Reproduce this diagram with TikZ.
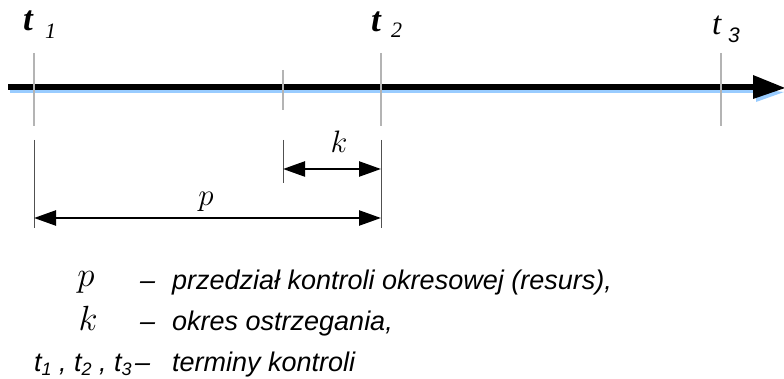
\RequirePackage{fix-cm}
\documentclass[tikz,border=0pt]{standalone}
\usepackage{fontspec}
\setmainfont{Liberation Serif}
\setsansfont{Liberation Sans}
\usetikzlibrary{arrows.meta}
\definecolor{tickgray}{HTML}{B4B4B4}
\definecolor{dimgray}{HTML}{505050}
\definecolor{shadowblue}{HTML}{99CCFF}
\tikzset{
  ticksty/.style={draw=tickgray, line width=2.2pt},
  extsty/.style={draw=dimgray, line width=1pt},
  dimarrow/.style={line width=2.4pt, {Triangle[length=22pt,width=15pt]}-{Triangle[length=22pt,width=15pt]}},
  tlab/.style={inner sep=0pt, anchor=base west, font=\fontsize{35}{36}\selectfont\bfseries\itshape},
  tsub/.style={inner sep=0pt, anchor=base west, font=\fontsize{22}{24}\selectfont\itshape},
  mathlab/.style={inner sep=0pt, anchor=base, font=\fontsize{31}{32}\selectfont},
  legmath/.style={inner sep=0pt, anchor=base, font=\fontsize{35}{36}\selectfont},
  legtext/.style={inner sep=0pt, anchor=base west, font=\fontsize{27}{30}\selectfont\sffamily\itshape},
}
\newcommand{\lsub}[1]{\raisebox{-4.5pt}{\fontsize{18}{19}\selectfont #1}}
\begin{document}
\begin{tikzpicture}[x=1pt,y=-1pt]
\useasboundingbox (0,0) rectangle (784,379);
% main axis
\coordinate (axL) at (8,87);
\coordinate (axR) at (754,87);
\fill[shadowblue] (10,89.5) rectangle (756,93);
\fill[shadowblue] (756,89) -- (784,92) -- (756,102) -- cycle;
\draw[line width=6pt] (axL) -- (axR);
\fill[black] (753,75) -- (785,88) -- (753,99) -- cycle;
% ticks
\coordinate (t1top) at (34,53);  \coordinate (t1bot) at (34,126);
\coordinate (mtop) at (283,70);  \coordinate (mbot) at (283,110);
\coordinate (t2top) at (381,53); \coordinate (t2bot) at (381,126);
\coordinate (t3top) at (721,53); \coordinate (t3bot) at (721,126);
\draw[ticksty] (t1top) -- (t1bot);
\draw[ticksty] (mtop) -- (mbot);
\draw[ticksty] (t2top) -- (t2bot);
\draw[ticksty] (t3top) -- (t3bot);
% top labels
\node[tlab] (lt1) at (23,31) {t};
\node[tsub] (ls1) at (45,39) {1};
\node[tlab] (lt2) at (371,32) {t};
\node[tsub] (ls2) at (391,38) {2};
\node[tlab, font=\fontsize{33}{34}\selectfont\itshape] (lt3) at (712,35) {t};
\node[tsub, font=\fontsize{21}{24}\selectfont\sffamily\itshape] (ls3) at (728,43) {3};
% extension lines
\coordinate (e1a) at (34,140); \coordinate (e1b) at (34,228);
\coordinate (e2a) at (283,140); \coordinate (e2b) at (283,183);
\coordinate (e3a) at (381,140); \coordinate (e3b) at (381,228);
\draw[extsty] (e1a) -- (e1b);
\draw[extsty] (e2a) -- (e2b);
\draw[extsty] (e3a) -- (e3b);
% dimension arrows
\coordinate (kL) at (283,169); \coordinate (kR) at (381,169);
\coordinate (pL) at (34,218);  \coordinate (pR) at (381,218);
\draw[dimarrow] (kL) -- (kR);
\draw[dimarrow] (pL) -- (pR);
\node[mathlab] (klab) at (339,153) {$k$};
\node[mathlab] (plab) at (206,206) {$p$};
% legend
\node[legmath] (lp) at (86,287) {$p$};
\node[legtext] (d1) at (140,289) {--};
\node[legtext] (x1) at (172,289) {przedział kontroli okresowej (resurs),};
\node[legmath] (lk) at (88,330) {$k$};
\node[legtext] (d2) at (140,330) {--};
\node[legtext] (x2) at (172,330) {okres ostrzegania,};
\node[legtext] (lts) at (34,371) {t\lsub{1} , t\lsub{2} , t\lsub{3}};
\node[legtext] (d3) at (135,371) {--};
\node[legtext] (x3) at (172,371) {terminy kontroli};
\end{tikzpicture}
\end{document}
